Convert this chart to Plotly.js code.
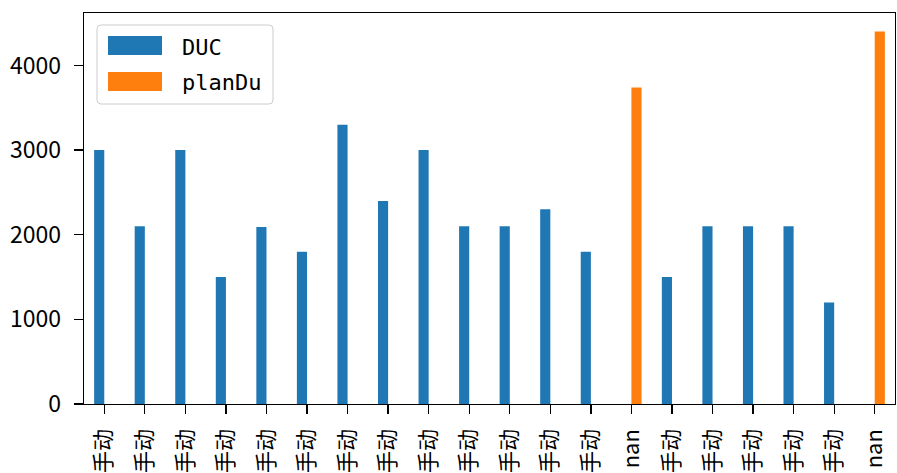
<!DOCTYPE html>
<html>
<head>
<meta charset="utf-8">
<script src="https://cdn.plot.ly/plotly-3.0.1.min.js"></script>
<style>html,body{margin:0;padding:0;background:#fff;}#chart{width:897px;height:473px;}</style>
</head>
<body>
<div id="chart"></div>
<script>
// Category tick labels (index 0..19)
var tickLabels = ["手动","手动","手动","手动","手动","手动","手动","手动","手动","手动","手动","手动","手动","nan","手动","手动","手动","手动","手动","nan"];
var seriesNames = ["DUC", "planDu"];
var ducValues = [3000, 2100, 3000, 1500, 2090, 1800, 3300, 2400, 3000, 2100, 2100, 2300, 1800, null, 1500, 2100, 2100, 2100, 1200, null];
var planDuValues = [null, null, null, null, null, null, null, null, null, null, null, null, null, 3740, null, null, null, null, null, 4400];
var yTickVals = [0, 1000, 2000, 3000, 4000];
var colors = ["#1f77b4", "#ff7f0e"];

var xIdx = tickLabels.map(function(_, i){ return i; });

var traces = [
  {type: 'bar', name: seriesNames[0], x: xIdx, y: ducValues, marker: {color: colors[0]}, showlegend: false},
  {type: 'bar', name: seriesNames[1], x: xIdx, y: planDuValues, marker: {color: colors[1]}, showlegend: false}
];

// layout geometry
var W = 897, H = 473, ml = 84, mr = 2, mt = 13, mb = 69;
var pw = W - ml - mr, ph = H - mt - mb;
function px(x){ return (x - ml) / pw; }
function py(y){ return (H - mb - y) / ph; }

function roundRect(x0, y0, x1, y1, r){
  var rx = r / pw, ry = r / ph;
  var X0 = px(x0), X1 = px(x1), Y0 = py(y1), Y1 = py(y0);
  return 'M' + (X0+rx) + ',' + Y1 + ' L' + (X1-rx) + ',' + Y1 +
    ' Q' + X1 + ',' + Y1 + ' ' + X1 + ',' + (Y1-ry) +
    ' L' + X1 + ',' + (Y0+ry) + ' Q' + X1 + ',' + Y0 + ' ' + (X1-rx) + ',' + Y0 +
    ' L' + (X0+rx) + ',' + Y0 + ' Q' + X0 + ',' + Y0 + ' ' + X0 + ',' + (Y0+ry) +
    ' L' + X0 + ',' + (Y1-ry) + ' Q' + X0 + ',' + Y1 + ' ' + (X0+rx) + ',' + Y1 + ' Z';
}

var shapes = [
  {type: 'path', xref: 'paper', yref: 'paper', path: roundRect(97, 25, 273, 104, 4),
   line: {color: '#cccccc', width: 1}, fillcolor: 'rgba(255,255,255,0.8)', layer: 'above'},
  {type: 'rect', xref: 'paper', yref: 'paper', x0: px(108), x1: px(162), y0: py(55), y1: py(36),
   line: {width: 0}, fillcolor: colors[0], layer: 'above'},
  {type: 'rect', xref: 'paper', yref: 'paper', x0: px(108), x1: px(162), y0: py(91), y1: py(72),
   line: {width: 0}, fillcolor: colors[1], layer: 'above'}
];

var annotations = [
  {xref: 'paper', yref: 'paper', x: px(180), y: py(47), xanchor: 'left', yanchor: 'middle', showarrow: false,
   text: seriesNames[0], font: {family: 'DejaVu Sans Mono', size: 22, color: '#000'}},
  {xref: 'paper', yref: 'paper', x: px(180), y: py(82), xanchor: 'left', yanchor: 'middle', showarrow: false,
   text: seriesNames[1], font: {family: 'DejaVu Sans Mono', size: 22, color: '#000'}}
];

var layout = {
  width: W, height: H,
  margin: {l: ml, r: mr, t: mt, b: mb, pad: 0},
  paper_bgcolor: '#fff', plot_bgcolor: '#fff',
  barmode: 'group', bargap: 0.5, bargroupgap: 0,
  font: {family: '"Noto Sans CJK SC", sans-serif', size: 22, color: '#000'},
  xaxis: {
    range: [-0.5, 19.5], tickmode: 'array', tickvals: xIdx, ticktext: tickLabels,
    tickangle: -90, ticks: 'outside', ticklen: 9, tickwidth: 1.3, tickcolor: '#000',
    showline: true, linecolor: '#000', linewidth: 1.3, mirror: true,
    showgrid: false, zeroline: false, tickfont: {size: 22}, ticklabelstandoff: 6
  },
  yaxis: {
    range: [0, 4620], tickmode: 'array', tickvals: yTickVals,
    ticks: 'outside', ticklen: 9, tickwidth: 1.3, tickcolor: '#000',
    showline: true, linecolor: '#000', linewidth: 1.3, mirror: true,
    showgrid: false, zeroline: false, tickfont: {size: 23}, ticklabelstandoff: 8
  },
  shapes: shapes,
  annotations: annotations,
  showlegend: false
};

Plotly.newPlot('chart', traces, layout, {staticPlot: true, displayModeBar: false});
</script>
</body>
</html>
